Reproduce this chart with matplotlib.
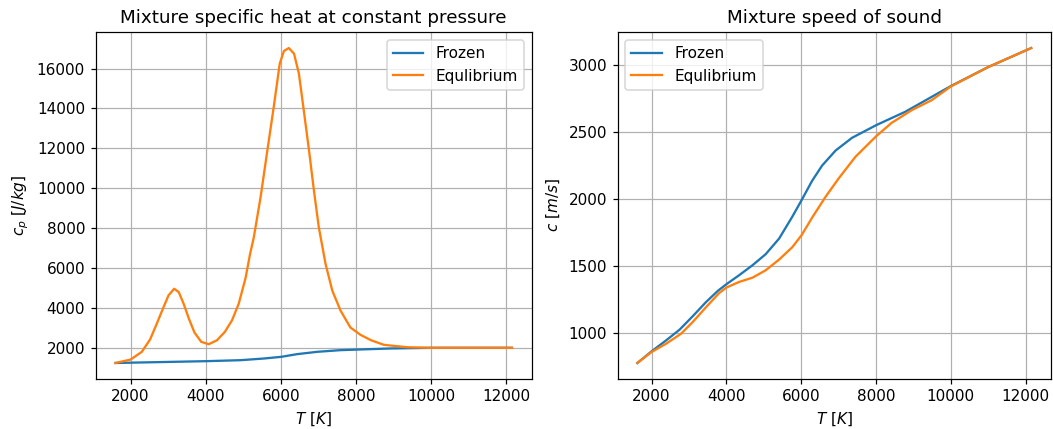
import numpy as np
import matplotlib
matplotlib.use('Agg')
from matplotlib import pyplot as plt

# Temperature samples [K] and mixture specific heat [J/kg]
T_cp = [1600, 2000, 2300, 2520, 2700, 2880, 3010, 3160, 3280, 3410, 3550, 3700, 3880,
        4080, 4300, 4510, 4700, 4880, 5060, 5180, 5280, 5460, 5640, 5810, 5970, 6080,
        6210, 6350, 6480, 6610, 6750, 6880, 7010, 7190, 7370, 7590, 7850, 8120, 8400,
        8740, 9360, 10000, 11000, 12150]
cp_eq = [1240, 1410, 1800, 2420, 3220, 4050, 4630, 4960, 4800, 4220, 3470, 2770, 2300,
         2180, 2380, 2800, 3380, 4220, 5500, 6700, 7540, 9550, 11890, 14070, 16245, 16880,
         17030, 16750, 15745, 13900, 11890, 9885, 8040, 6200, 4860, 3860, 3020, 2650, 2380,
         2150, 2030, 2000, 2000, 2000]

T_cpf = [1600, 4000, 4930, 5550, 6010, 6430, 6970, 7590, 8000, 8920, 10000, 11000, 12150]
cp_frozen = [1240, 1330, 1380, 1464, 1548, 1682, 1800, 1883, 1910, 1967, 2000, 2000, 2000]

# Mixture speed of sound [m/s]
T_c = [1620, 2000, 2390, 2750, 3100, 3460, 3770, 4000, 4340, 4700, 5050, 5410, 5760,
       6010, 6290, 6560, 6920, 7360, 8010, 8780, 10000, 11000, 12150]
c_frozen = [776, 863, 945, 1025, 1125, 1232, 1314, 1364, 1431, 1506, 1588, 1705, 1867,
            1991, 2135, 2250, 2362, 2457, 2552, 2651, 2843, 2985, 3127]

T_ce = [1620, 2000, 2390, 2790, 3100, 3460, 3810, 4000, 4340, 4700, 5050, 5410, 5760,
        6010, 6290, 6650, 7000, 7450, 8010, 8420, 8960, 9490, 10000, 11000, 12150]
c_eq = [776, 858, 920, 995, 1082, 1194, 1299, 1339, 1381, 1413, 1468, 1548, 1640,
        1730, 1860, 2016, 2153, 2315, 2470, 2569, 2664, 2738, 2840, 2985, 3127]

fig = plt.figure(figsize=(1053/110, 429/110), dpi=110)

ax1 = fig.add_axes([0.0909, 0.1172, 0.4141, 0.8075])
ax1.plot(T_cpf, cp_frozen, label='Frozen')
ax1.plot(T_cp, cp_eq, label='Equlibrium')
ax1.set_title('Mixture specific heat at constant pressure')
ax1.set_xlabel('$T$ $[K]$')
ax1.set_ylabel('$c_p$ $[J/kg]$')
ax1.grid()
ax1.legend()

ax2 = fig.add_axes([0.5866, 0.1172, 0.4114, 0.8075])
ax2.plot(T_c, c_frozen, label='Frozen')
ax2.plot(T_ce, c_eq, label='Equlibrium')
ax2.set_title('Mixture speed of sound')
ax2.set_xlabel('$T$ $[K]$')
ax2.set_ylabel('$c$ $[m/s]$')
ax2.grid()
ax2.legend()

fig.savefig('out.png', dpi=110)
